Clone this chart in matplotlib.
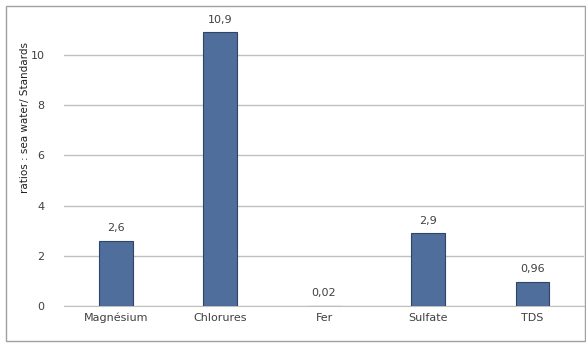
import matplotlib.pyplot as plt
from matplotlib.patches import Rectangle

# ratios sea water / standards
categories = ["Magnésium", "Chlorures", "Fer", "Sulfate", "TDS"]
values = [2.6, 10.9, 0.02, 2.9, 0.96]
labels = ["2,6", "10,9", "0,02", "2,9", "0,96"]

bar_color = "#4F6E9C"
text_color = "#404040"
grid_color = "#C0C0C0"

fig = plt.figure(figsize=(5.86, 3.47), dpi=100)
ax = fig.add_axes([0.109, 0.118, 0.888, 0.868])

x = range(len(categories))
bars = ax.bar(x, values, width=0.32, color=bar_color, edgecolor="#2F4566", linewidth=0.8, zorder=3)

for b, lab in zip(bars, labels):
    ax.text(b.get_x() + b.get_width() / 2, b.get_height() + 0.3, lab,
            ha="center", va="bottom", fontsize=8, color=text_color)

ax.set_xlim(-0.5, len(categories) - 0.5)
ax.set_ylim(0, 12)
ax.set_yticks(range(0, 11, 2))
ax.set_xticks(list(x))
ax.set_xticklabels(categories)
ax.tick_params(axis="both", length=0, labelsize=8, colors=text_color)
ax.tick_params(axis="y", pad=14)
ax.tick_params(axis="x", pad=5)
ax.yaxis.grid(True, color=grid_color, linewidth=1, zorder=0)
for s in ["top", "right", "left"]:
    ax.spines[s].set_visible(False)
ax.spines["bottom"].set_color(grid_color)

fig.text(0.043, 0.66, "ratios : sea water/ Standards", rotation=90,
         ha="center", va="center", fontsize=7.5, color="#202020")

fig.patches.append(Rectangle((6 / 586, 6 / 347), 579 / 586, 335 / 347,
                             transform=fig.transFigure, fill=False,
                             edgecolor="#A0A0A0", linewidth=1))

fig.savefig("out.png", dpi=100)
